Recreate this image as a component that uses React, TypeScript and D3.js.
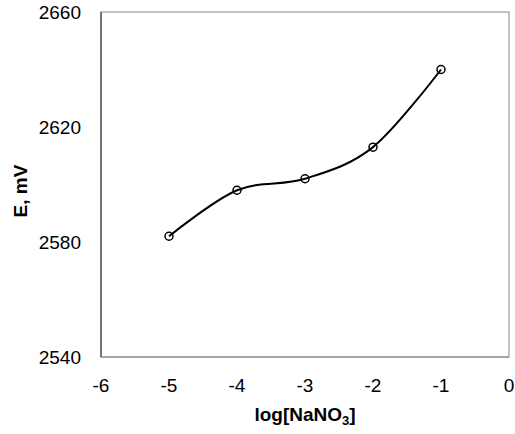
import React from "react";
import * as d3 from "d3";

const xValues = [-5, -4, -3, -2, -1];
const eValues = [2582, 2598, 2602, 2613, 2640];
const xTicks = [-6, -5, -4, -3, -2, -1, 0];
const yTicks = [2540, 2580, 2620, 2660];

export default function App() {
  const W = 515, H = 434;
  const L = 101, R = 509, T = 12, B = 357;
  const x = d3.scaleLinear().domain([-6, 0]).range([L, R]);
  const y = d3.scaleLinear().domain([2540, 2660]).range([B, T]);
  const pts = xValues.map((v, i) => [x(v), y(eValues[i])] as [number, number]);
  const line = d3.line().curve(d3.curveCardinal.tension(0))(pts) || "";
  const font = "'Liberation Sans', Arial, sans-serif";
  return (
    <svg width={W} height={H} style={{ position: "absolute", left: 0, top: 0 }} fontFamily={font}>
      <rect x={L} y={T} width={R - L} height={B - T} fill="none" stroke="#868686" strokeWidth={1} />
      <line x1={L} x2={L} y1={T} y2={B} stroke="#404040" strokeWidth={1.2} />
      <line x1={L} x2={R} y1={B} y2={B} stroke="#868686" strokeWidth={1.2} />
      {yTicks.map((t) => (
        <text key={t} x={81} y={y(t)} dy="0.36em" textAnchor="end" fontSize={19} fill="#000">{t}</text>
      ))}
      {xTicks.map((t) => (
        <text key={t} x={x(t)} y={385} dy="0.36em" textAnchor="middle" fontSize={19} fill="#000">{t}</text>
      ))}
      <text x={305} y={421} textAnchor="middle" fontSize={19} fontWeight="bold" fill="#000">
        log[NaNO<tspan fontSize={13} dy={4}>3</tspan><tspan dy={-4}>]</tspan>
      </text>
      <text transform={`translate(27, 191) rotate(-90)`} textAnchor="middle" fontSize={19} fontWeight="bold" fill="#000">E, mV</text>
      <path d={line} fill="none" stroke="#000" strokeWidth={2} />
      {pts.map((p, i) => (
        <circle key={i} cx={p[0]} cy={p[1]} r={4} fill="none" stroke="#000" strokeWidth={1.5} />
      ))}
    </svg>
  );
}
